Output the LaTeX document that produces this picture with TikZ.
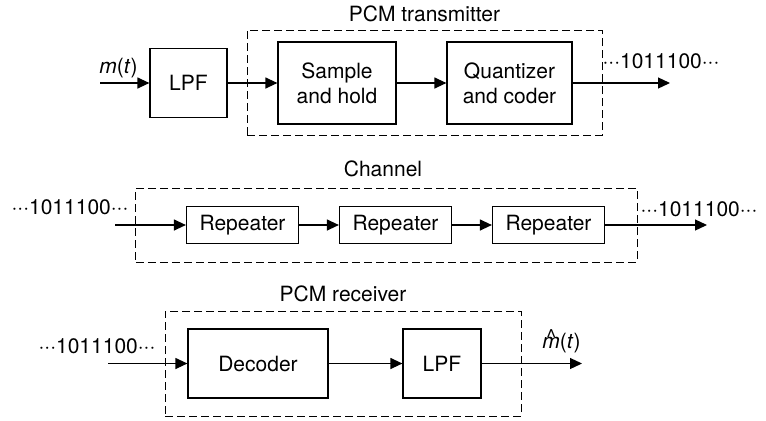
\documentclass[tikz,border=0pt]{standalone}
\usepackage{fontspec}
\setmainfont{TeX Gyre Heros}
\usetikzlibrary{arrows.meta}
\newcommand\hatm{{\setbox0\hbox{\textit{m}}%
  \rlap{\hbox to \wd0{\hss\raisebox{4bp}{\^{}}\hss}}\box0}}
\begin{document}
\begin{tikzpicture}[x=1bp,y=-1bp,
  blk/.style={draw,line width=\pcmlw,inner sep=0pt,align=center,
    font=\fontsize{21bp}{25bp}\selectfont},
  grp/.style={draw,line width=1bp,dash pattern=on 8bp off 4bp,inner sep=0pt},
  lbl/.style={inner sep=0pt,anchor=base,font=\fontsize{21bp}{25bp}\selectfont},
  sig/.style={-{Triangle[length=12bp,width=11bp]}}]%
% PCM link, coordinates in pixels of the 766 x 420 drawing
\ifx\pcmlw\undefined\newdimen\pcmlw\fi
\global\def\pcmdraw{\draw[line width=\pcmlw]}
\pcmlw=1.2bp
\useasboundingbox (0,0) rectangle (766,420);
% transmitter
\node[grp,minimum width=355bp,minimum height=105bp] (tx) at (424.5,82.5) {};
\node[lbl] (txLbl) at (424.5,21.5) {PCM transmitter};
\node[blk,minimum width=77bp,minimum height=69bp] (lpfA) at (188.5,83) {LPF};
\node[blk,minimum width=118bp,minimum height=82bp] (sh) at (337,83) {Sample\\and hold};
\node[blk,minimum width=125bp,minimum height=82bp] (qc) at (509.5,83) {Quantizer\\and coder};
\coordinate (mIn) at (100,83);
\coordinate (txOut) at (670,83);
\node[lbl] (mLbl) at (118.5,73) {\textit{m}(\textit{t})};
\node[lbl] (txBits) at (661,68) {···1011100···};
\pcmdraw[sig] (mIn)
 --(lpfA);
\pcmdraw[sig] (lpfA)
 --(sh);
\pcmdraw[sig] (sh)
 --(qc);
\pcmdraw[sig] (qc)
 --(txOut);
% channel
\node[grp,minimum width=501bp,minimum height=74bp] (ch) at (386.5,225) {};
\node[lbl] (chLbl) at (383,176.5) {Channel};
\foreach \i/\x in {1/242.5,2/395.5,3/548.5}
  \node[blk,minimum width=112bp,minimum height=37bp] (rep\i) at (\x,225) {Repeater};
\coordinate (chIn) at (115,225);
\coordinate (chOut) at (707,225);
\node[lbl] (chBitsIn) at (70,214) {···1011100···};
\node[lbl] (chBitsOut) at (699,216) {···1011100···};
\pcmdraw[sig] (chIn)
 --(rep1);
\pcmdraw[sig] (rep1)
 --(rep2);
\pcmdraw[sig] (rep2)
 --(rep3);
\pcmdraw[sig] (rep3)
 --(chOut);
% receiver
\node[grp,minimum width=356bp,minimum height=105bp] (rx) at (343,363.5) {};
\node[lbl] (rxLbl) at (343,301) {PCM receiver};
\node[blk,minimum width=140bp,minimum height=69bp] (dec) at (258,363.5) {Decoder};
\node[blk,minimum width=78bp,minimum height=69bp] (lpfB) at (442,363.5) {LPF};
\coordinate (rxIn) at (108,363.5);
\coordinate (rxOut) at (582,363.5);
\node[lbl] (rxBits) at (97,353) {···1011100···};
\node[lbl] (mhLbl) at (561.5,348) {\hatm(\textit{t})};
\pcmdraw[sig] (rxIn)
 --(dec);
\pcmdraw[sig] (dec)
 --(lpfB);
\pcmdraw[sig] (lpfB)
 --(rxOut);
\end{tikzpicture}
\end{document}
